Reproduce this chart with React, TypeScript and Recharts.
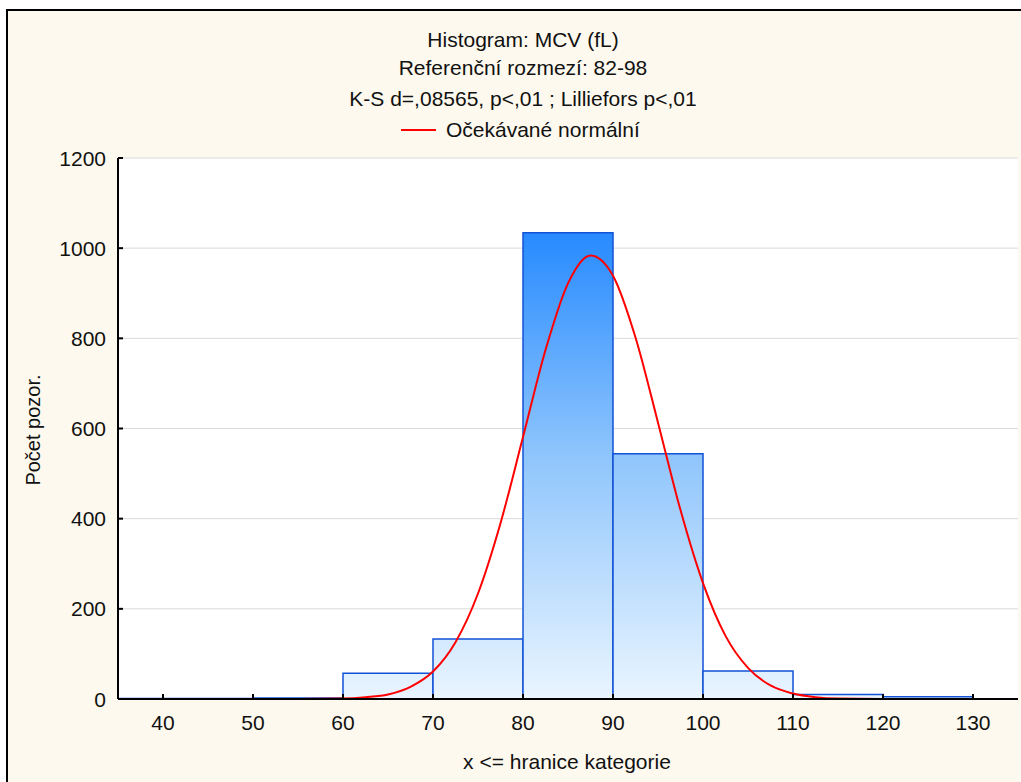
import { ComposedChart, Bar, Line, XAxis, YAxis, CartesianGrid } from 'recharts';

// Histogram bins (upper bounds, width 10) and observation counts
const binUpper = [40, 50, 60, 70, 80, 90, 100, 110, 120, 130];
const binCount = [1, 1, 2, 57, 133, 1034, 544, 62, 10, 5];
const binWidth = 10;

// Expected normal curve, read at these x positions
const curveX = [35, 45, 55, 60, 62.5, 65, 67.5, 70, 72.5, 75, 77.5, 80, 82.5, 85, 87.5, 90, 92.5, 95, 97.5, 100, 102.5, 105, 107.5, 110, 112.5, 115, 120, 125, 135];
const curveY = [0, 0, 0, 1, 4, 10, 27, 61, 126, 234, 390, 581, 774, 922, 984, 939, 802, 613, 419, 257, 140, 69, 30, 12, 4, 1, 0, 0, 0];

const xTicks = [40, 50, 60, 70, 80, 90, 100, 110, 120, 130];
const yTicks = [0, 200, 400, 600, 800, 1000, 1200];

const bins = binUpper.map((u, i) => ({ x: u - binWidth / 2, count: binCount[i] }));
const curve = curveX.map((x, i) => ({ x, normal: curveY[i] }));

const FONT = '"Liberation Sans", Arial, sans-serif';
const TICK_LEN = 5;

// bottom axis: inward tick line plus label below
const XTick = (props: any) => {
  const { x, y, payload } = props;
  const axisY = y - 16;
  return (
    <g>
      <line x1={x} x2={x} y1={axisY} y2={axisY - TICK_LEN} stroke="#000" strokeWidth={2} />
      <text x={x} y={y} dy="0.71em" textAnchor="middle" fontSize={21} fontFamily={FONT} fill="#111">
        {payload.value}
      </text>
    </g>
  );
};

// left axis: inward tick line plus label to the left
const YTick = (props: any) => {
  const { x, y, payload } = props;
  const axisX = x + 12;
  return (
    <g>
      <line x1={axisX} x2={axisX + TICK_LEN} y1={y} y2={y} stroke="#000" strokeWidth={2} />
      <text x={x} y={y} dy="0.36em" textAnchor="end" fontSize={21} fontFamily={FONT} fill="#111">
        {payload.value}
      </text>
    </g>
  );
};

const titleStyle: React.CSSProperties = {
  position: 'absolute',
  left: 0,
  width: 1046,
  textAlign: 'center',
  fontFamily: FONT,
  fontSize: 21,
  color: '#111',
  lineHeight: '24px',
};

export default function App() {
  return (
    <div style={{ position: 'absolute', left: 0, top: 0, width: 1021, height: 782, overflow: 'hidden', background: '#fff' }}>
      <div style={{ position: 'absolute', left: 6, top: 9, width: 1100, height: 900, border: '2px solid #000', background: '#fdf9ee' }} />

      <div style={{ ...titleStyle, top: 28 }}>Histogram: MCV (fL)</div>
      <div style={{ ...titleStyle, top: 56 }}>Referenční rozmezí: 82-98</div>
      <div style={{ ...titleStyle, top: 87 }}>K-S d=,08565, p&lt;,01 ; Lilliefors p&lt;,01</div>
      <div style={{ position: 'absolute', left: 401, top: 129, width: 35, height: 2, background: '#ff0000' }} />
      <div style={{ ...titleStyle, left: 446, width: 300, textAlign: 'left', top: 118 }}>Očekávané normální</div>

      <div
        style={{
          position: 'absolute',
          left: 33,
          top: 430,
          transform: 'translate(-50%, -50%) rotate(-90deg)',
          whiteSpace: 'nowrap',
          fontFamily: FONT,
          fontSize: 20,
          color: '#111',
        }}
      >
        Počet pozor.
      </div>
      <div style={{ ...titleStyle, left: 118, width: 898, top: 750 }}>x &lt;= hranice kategorie</div>

      <div style={{ position: 'absolute', left: 0, top: 0 }}>
        <ComposedChart
          width={1021}
          height={782}
          data={bins}
          margin={{ top: 158, right: 3, bottom: 0, left: 0 }}
          barCategoryGap={0}
          barGap={0}
        >
          <defs>
            <linearGradient id="barFill" gradientUnits="userSpaceOnUse" x1="0" y1="158" x2="0" y2="699">
              <stop offset="0%" stopColor="#1680ff" />
              <stop offset="15%" stopColor="#2a8cff" />
              <stop offset="55%" stopColor="#8fc5fc" />
              <stop offset="100%" stopColor="#eaf5ff" />
            </linearGradient>
          </defs>
          <CartesianGrid
            yAxisId="left"
            vertical={false}
            stroke="#dadada"
            strokeWidth={1}
            fill="#ffffff"
            fillOpacity={1}
          />
          <XAxis
            dataKey="x"
            type="number"
            domain={[35, 135]}
            ticks={xTicks}
            allowDataOverflow
            height={83}
            tickSize={0}
            tickMargin={16}
            tick={<XTick />}
            axisLine={{ stroke: '#000', strokeWidth: 2 }}
            tickLine={false}
          />
          {/* top frame; the normal curve is plotted against it so the bars keep a 10-unit band */}
          <XAxis
            xAxisId="top"
            dataKey="x"
            orientation="top"
            type="number"
            domain={[35, 135]}
            ticks={xTicks}
            allowDataOverflow
            height={0}
            mirror
            tick={false}
            tickSize={TICK_LEN}
            axisLine={{ stroke: '#000', strokeWidth: 2.5 }}
            tickLine={{ stroke: '#000', strokeWidth: 2 }}
          />
          <YAxis
            yAxisId="left"
            type="number"
            domain={[0, 1200]}
            ticks={yTicks}
            allowDataOverflow
            width={118}
            tickSize={0}
            tickMargin={12}
            tick={<YTick />}
            axisLine={{ stroke: '#000', strokeWidth: 2 }}
            tickLine={false}
          />
          <YAxis
            yAxisId="right"
            orientation="right"
            type="number"
            domain={[0, 1200]}
            ticks={yTicks}
            allowDataOverflow
            width={0}
            mirror
            tick={false}
            tickSize={TICK_LEN}
            axisLine={{ stroke: '#000', strokeWidth: 2.5 }}
            tickLine={{ stroke: '#000', strokeWidth: 2 }}
          />
          <Bar
            yAxisId="left"
            dataKey="count"
            fill="url(#barFill)"
            stroke="#1252d6"
            strokeWidth={1.5}
            isAnimationActive={false}
          />
          <Line
            xAxisId="top"
            yAxisId="left"
            data={curve}
            dataKey="normal"
            type="monotone"
            stroke="#ff0000"
            strokeWidth={2}
            dot={false}
            activeDot={false}
            isAnimationActive={false}
          />
        </ComposedChart>
      </div>
    </div>
  );
}
